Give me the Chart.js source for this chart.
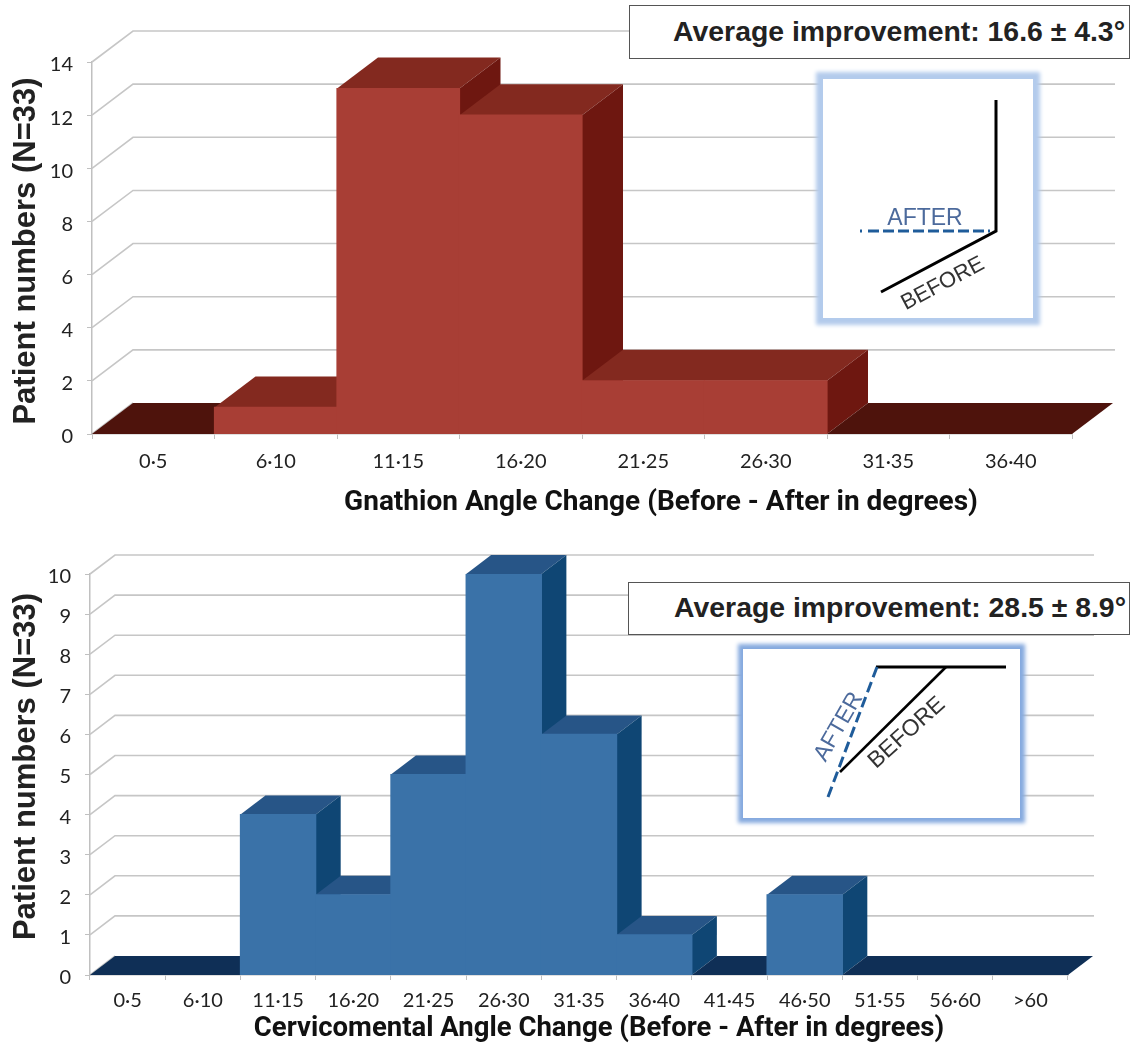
<!DOCTYPE html>
<html><head><meta charset="utf-8">
<script src="https://cdn.jsdelivr.net/npm/chart.js@4"></script>
<style>
html,body{margin:0;padding:0;background:#fff;width:1131px;height:1046px;overflow:hidden}
canvas{position:absolute;left:0}
#c1{top:0}#c2{top:530px}
.note{position:absolute;box-sizing:border-box;background:#fff;border:1.5px solid #555;font:bold 28.4px "Liberation Sans",Arial,sans-serif;color:#222;text-align:right;white-space:nowrap}
.inset{position:absolute;background:#fff}
svg{position:absolute;left:0;top:0}
svg text{font-family:"Liberation Sans",Arial,sans-serif}
</style></head><body>
<canvas id="c1" width="1131" height="520"></canvas>
<canvas id="c2" width="1131" height="516"></canvas>
<div class="note" style="left:629px;top:5px;width:501px;height:54px;line-height:50px;padding-right:4px">Average improvement: 16.6 ± 4.3°</div>
<div class="note" style="left:628px;top:582px;width:502px;height:53px;line-height:48px;padding-right:3px">Average improvement: 28.5 ± 8.9°</div>
<div class="inset" style="left:823px;top:79px;width:210px;height:239px;box-shadow:0 0 4px 7px #b3cbec"></div>
<div class="inset" style="left:743px;top:649px;width:277px;height:169px;box-shadow:0 0 4px 5px #86aadf"></div>
<svg width="1131" height="1046" viewBox="0 0 1131 1046">
  <path d="M996 100V231L881 292" fill="none" stroke="#000" stroke-width="3"/>
  <path d="M860 231H996" fill="none" stroke="#1f5c9a" stroke-width="3" stroke-dasharray="2 6 11 4 11 4 11 4 11 4 11 4 11 4 11 4 11 4"/>
  <text x="925" y="225" font-size="23" fill="#4c6a9c" text-anchor="middle">AFTER</text>
  <text transform="translate(943 284) rotate(-28)" font-size="22" fill="#333" text-anchor="middle" dominant-baseline="middle">BEFORE</text>
  <path d="M1006 667H876" fill="none" stroke="#000" stroke-width="3"/>
  <path d="M946 667L840 772" fill="none" stroke="#000" stroke-width="2.6"/>
  <path d="M877 667L828 797" fill="none" stroke="#1f5c9a" stroke-width="3" stroke-dasharray="11 5"/>
  <text transform="translate(839 727) rotate(-60)" font-size="23" fill="#4c6a9c" text-anchor="middle" dominant-baseline="middle">AFTER</text>
  <text transform="translate(907 733) rotate(-42)" font-size="23" fill="#333" text-anchor="middle" dominant-baseline="middle">BEFORE</text>
</svg>
<script>
const gnathionBins = ['0·5','6·10','11·15','16·20','21·25','26·30','31·35','36·40'];
const gnathionCounts = [0,1,13,12,2,2,0,0];
const gnathionTicks = [0,2,4,6,8,10,12,14];
const cervicoBins = ['0·5','6·10','11·15','16·20','21·25','26·30','31·35','36·40','41·45','46·50','51·55','56·60','>60'];
const cervicoCounts = [0,0,4,2,5,10,6,1,0,2,0,0,0];
const cervicoTicks = [0,1,2,3,4,5,6,7,8,9,10];
const yTitle = 'Patient numbers (N=33)';
const xTitle1 = 'Gnathion Angle Change (Before - After in degrees)';
const xTitle2 = 'Cervicomental Angle Change (Before - After in degrees)';

const depth3d = {
  id: 'depth3d',
  afterLayout(chart, args, o) {
    const shift = (s, dx, dy) => {
      if (s._titleWrapped) return; s._titleWrapped = true;
      const f = s.drawTitle;
      s.drawTitle = function () {
        const b = [this.left, this.right, this.top, this.bottom];
        this.left += dx; this.right += dx; this.top += dy; this.bottom += dy;
        f.call(this);
        [this.left, this.right, this.top, this.bottom] = b;
      };
    };
    shift(chart.scales.x, o.xTitleDx, 0);
    shift(chart.scales.y, 0, o.yTitleDy);
    const yScale = chart.scales.y;
    if (!yScale._labelWrapped) {
      yScale._labelWrapped = true;
      const g = yScale.getLabelItems;
      yScale.getLabelItems = function (area) {
        return g.call(this, area).map(it => ({ ...it, textOffset: it.textOffset + o.yLabelDy }));
      };
    }
  },
  beforeDatasetsDraw(chart, args, o) {
    const { ctx, scales: { x, y } } = chart;
    const { dx, dy } = o;
    const left = x.left, y0 = y.getPixelForValue(0);
    const poly = (pts, fill) => {
      ctx.beginPath(); pts.forEach((p, i) => i ? ctx.lineTo(p[0], p[1]) : ctx.moveTo(p[0], p[1]));
      ctx.closePath(); ctx.fillStyle = fill; ctx.fill();
    };
    ctx.save();
    // walls
    ctx.strokeStyle = '#c6c6c6'; ctx.lineWidth = 1.6;
    y.ticks.forEach(t => {
      const py = y.getPixelForValue(t.value);
      ctx.beginPath(); ctx.moveTo(left, py); ctx.lineTo(left + dx, py - dy);
      if (t.value !== 0) ctx.lineTo(o.wallEnd, py - dy);
      ctx.stroke();
    });
    // top and side faces, neighbouring bars of equal height share one face
    const meta = chart.getDatasetMeta(0);
    const vals = chart.data.datasets[0].data;
    let start = 0;
    vals.forEach((v, i) => {
      if (vals[i + 1] === v) return;
      const a = meta.data[start], e = meta.data[i];
      const xl = a.x - a.width / 2, xr = e.x + e.width / 2, py = y.getPixelForValue(v);
      poly([[xl, py], [xr, py], [xr + dx, py - dy], [xl + dx, py - dy]], v === 0 ? o.floor : o.top);
      if (v > 0) poly([[xr, py], [xr + dx, py - dy], [xr + dx, y0 - dy], [xr, y0]], o.side);
      start = i + 1;
    });
    ctx.restore();
  }
};

function build(id, bins, counts, yticks, ymax, xTitle, geo) {
  const H = document.getElementById(id).height;
  return new Chart(document.getElementById(id), {
    type: 'bar',
    data: { labels: bins, datasets: [{ data: counts, backgroundColor: c => c.raw > 0 ? geo.front : 'transparent', inflateAmount: 0.6, barPercentage: 1, categoryPercentage: 1, borderWidth: 0 }] },
    plugins: [depth3d],
    options: {
      responsive: false, animation: false,
      layout: { padding: { left: 0, top: geo.top, right: 1131 - geo.right, bottom: 0 } },
      plugins: {
        legend: { display: false }, tooltip: { enabled: false },
        depth3d: { dx: geo.dx, dy: geo.dy, wallEnd: geo.wallEnd, top: geo.topFace, side: geo.side, floor: geo.floor, xTitleDx: geo.xTitleDx, yTitleDy: geo.yTitleDy, yLabelDy: geo.yLabelDy }
      },
      scales: {
        x: {
          afterFit: s => { s.height = H - geo.bottom; },
          grid: { drawOnChartArea: false, drawTicks: true, tickLength: 5, color: '#c0c0c0', offset: true },
          border: { color: '#c0c0c0', width: 1.5 },
          ticks: { autoSkip: false, maxRotation: 0, minRotation: 0, padding: geo.xTickPad, color: '#222', font: { family: 'Lato', size: 20 } },
          title: { display: true, text: xTitle, color: '#111', font: { family: 'Roboto', weight: 'bold', size: geo.xTitleSize, lineHeight: 1.2 }, padding: { top: 0, bottom: geo.xTitlePad } }
        },
        y: {
          min: 0, max: ymax,
          afterFit: s => { s.width = geo.left; },
          afterBuildTicks: s => { s.ticks = yticks.map(v => ({ value: v })); },
          grid: { drawOnChartArea: false, drawTicks: true, tickLength: 5, color: '#c0c0c0' },
          border: { color: '#c0c0c0', width: 1.5 },
          ticks: { padding: 14, color: '#222', font: { family: 'Lato', size: 20 } },
          title: { display: true, text: yTitle, color: '#222', font: { family: 'Liberation Sans', weight: 'bold', size: 31, lineHeight: 1.2 }, padding: { top: 8, bottom: 0 } }
        }
      }
    }
  });
}

build('c1', gnathionBins, gnathionCounts, gnathionTicks, 14, xTitle1, {
  left: 92, right: 1072, top: 62, bottom: 434, dx: 41, dy: 31, wallEnd: 1115,
  front: '#a83e35', topFace: '#83291f', side: '#6e1710', floor: '#4e130c',
  xTickPad: 11, xTitlePad: 0, xTitleSize: 28, xTitleDx: 79, yTitleDy: 3, yLabelDy: 3
});
build('c2', cervicoBins, cervicoCounts, cervicoTicks, 10, xTitle2, {
  left: 90, right: 1068, top: 44, bottom: 445, dx: 25, dy: 19, wallEnd: 1094,
  front: '#3a72a8', topFace: '#275587', side: '#0f4674', floor: '#0f2f56',
  xTickPad: 9, xTitlePad: 0, xTitleSize: 27.5, xTitleDx: 20, yTitleDy: -8, yLabelDy: 2.5
});
</script>
</body></html>
